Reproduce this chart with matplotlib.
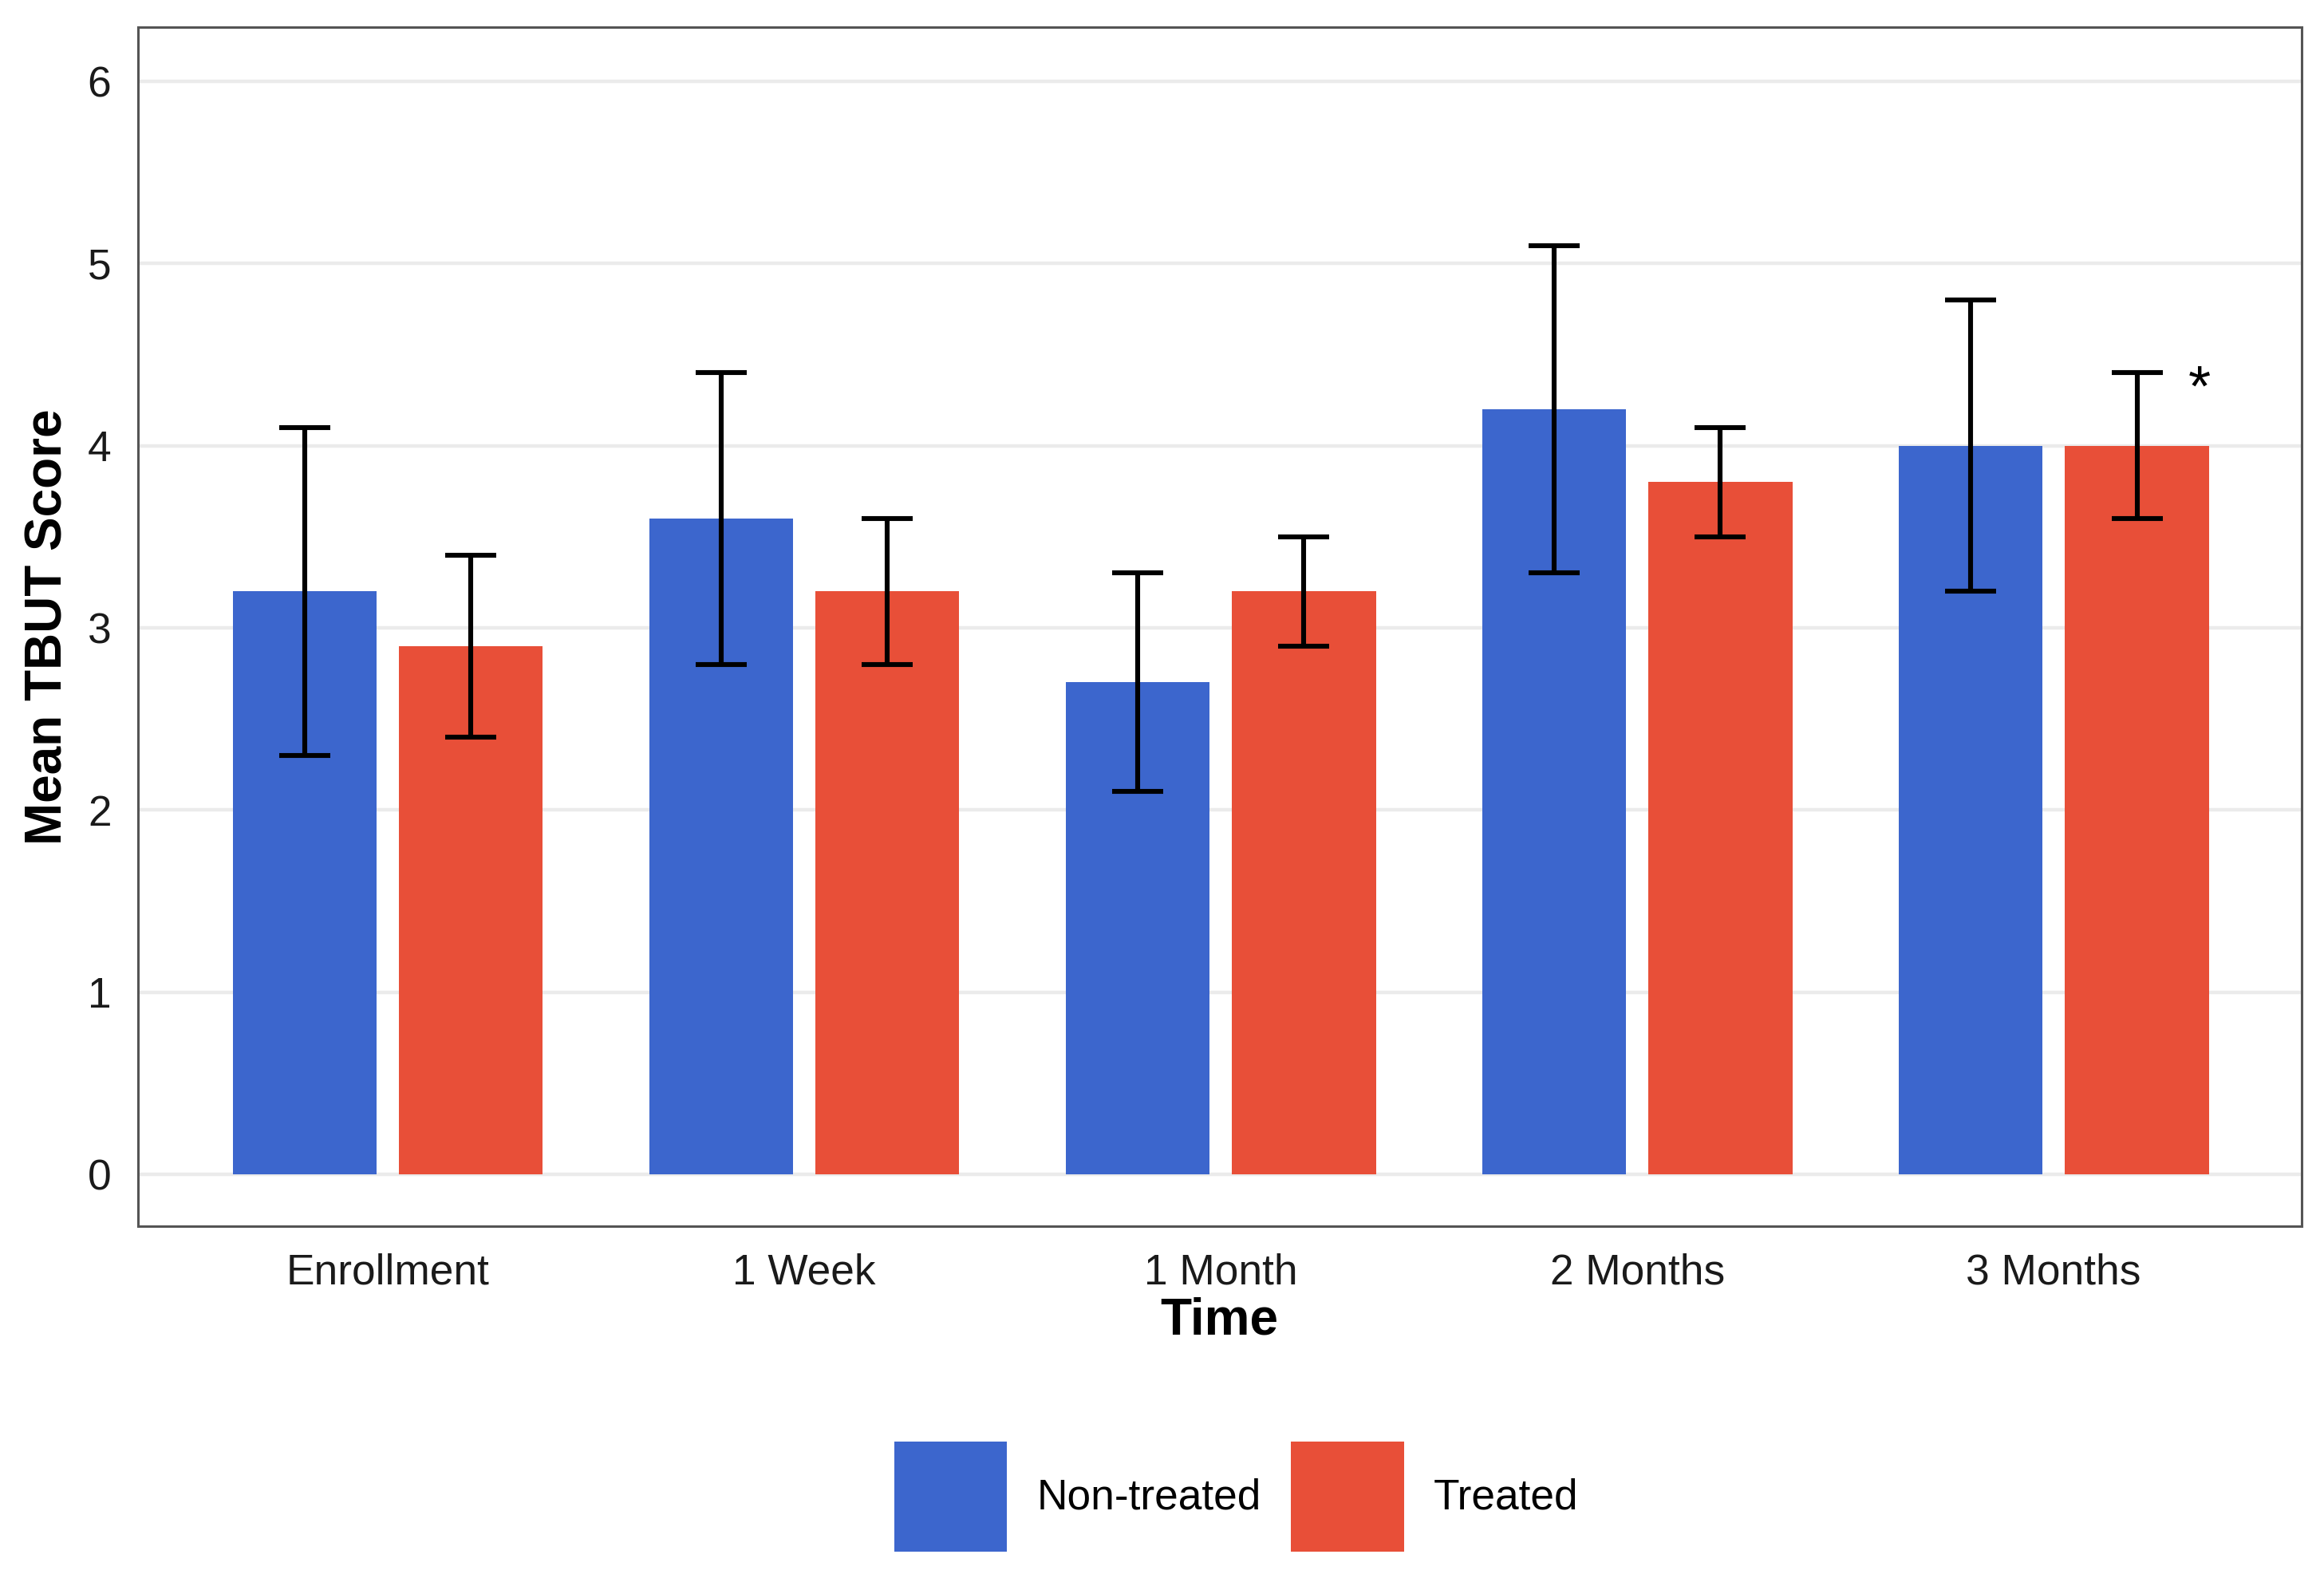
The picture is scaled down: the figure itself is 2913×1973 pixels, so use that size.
import numpy as np
import matplotlib
matplotlib.use('Agg')
import matplotlib.pyplot as plt
from matplotlib.patches import Patch

plt.rcParams['font.family'] = ['Liberation Sans', 'DejaVu Sans']

# data
times = ['Enrollment', '1 Week', '1 Month', '2 Months', '3 Months']
non_treated = [3.2, 3.6, 2.7, 4.2, 4.0]
non_treated_err = [0.9, 0.8, 0.6, 0.9, 0.8]
treated = [2.9, 3.2, 3.2, 3.8, 4.0]
treated_err = [0.5, 0.4, 0.3, 0.3, 0.4]
groups = ['Non-treated', 'Treated']
colors = ['#3C66CD', '#E84F38']

fig = plt.figure(figsize=(14.565, 9.865), dpi=200)
ax = fig.add_axes([0.0593, 0.221, 0.931, 0.762])

x = np.arange(len(times))
w = 0.345
off = 0.2

ax.bar(x - off, non_treated, width=w, color=colors[0], zorder=2)
ax.bar(x + off, treated, width=w, color=colors[1], zorder=2)
ax.errorbar(x - off, non_treated, yerr=non_treated_err, fmt='none', ecolor='black',
            elinewidth=2.2, capsize=11.5, capthick=2.2, zorder=3)
ax.errorbar(x + off, treated, yerr=treated_err, fmt='none', ecolor='black',
            elinewidth=2.2, capsize=11.5, capthick=2.2, zorder=3)

# significance mark on 3 Months, treated
ax.text(4 + off + 0.15, 4.3, '*', fontsize=26, ha='center', va='center', color='black')

ax.set_xlim(-0.6, 4.595)
ax.set_ylim(-0.285, 6.3)
ax.set_yticks(range(0, 7))
ax.set_xticks(x)
ax.set_xticklabels(times)
ax.tick_params(axis='both', length=0, labelsize=19.2, labelcolor='#1a1a1a', pad=12)
ax.grid(axis='y', color='#EBEBEB', linewidth=1.6, zorder=0)
ax.set_axisbelow(True)
for s in ax.spines.values():
    s.set_color('#555555')
    s.set_linewidth(1.1)

ax.set_xlabel('Time', fontsize=23, fontweight='bold', labelpad=2)
ax.set_ylabel('Mean TBUT Score', fontsize=23, fontweight='bold', labelpad=7)

handles = [Patch(facecolor=c, edgecolor='none') for c in colors]
fig.legend(handles, groups, loc='center', bbox_to_anchor=(0.532, 0.049), ncol=2,
           frameon=False, fontsize=19.2, handlelength=2.65, handleheight=3.6,
           handletextpad=0.7, columnspacing=0.7)

fig.savefig('out.png', dpi=200)
